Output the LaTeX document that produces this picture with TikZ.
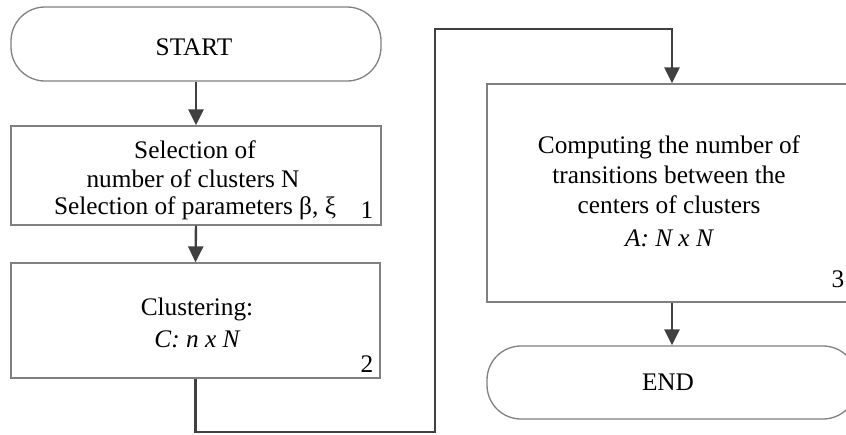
\documentclass[tikz,border=0pt]{standalone}
\usepackage{fontspec}
\setmainfont{Liberation Serif}
\usetikzlibrary{arrows.meta}
\begin{document}
\begin{tikzpicture}[x=1pt,y=-1pt,
  box/.style={draw=black!50, line width=1.3pt, fill=white, rectangle, inner sep=0pt},
  term/.style={box, rounded corners=34pt},
  txt/.style={font=\fontsize{25.3}{30}\selectfont, anchor=base, inner sep=0pt, text=black},
  conn/.style={draw=black!75, line width=2.4pt},
  arr/.style={conn, -{Triangle[length=16pt,width=15pt]}}]
\useasboundingbox (0,0) rectangle (846,434);
\clip (0,0) rectangle (846,434);
% left column
\node[term, minimum width=370pt, minimum height=74pt] (start) at (196,44) {};
\node[box, minimum width=370pt, minimum height=99pt] (b1) at (196,175.5) {};
\node[box, minimum width=369pt, minimum height=115pt] (b2) at (195.5,320.5) {};
% right column
\node[box, minimum width=370pt, minimum height=218pt] (b3) at (672,193) {};
\node[term, minimum width=370pt, minimum height=73pt] (end) at (672,382.5) {};
% texts
\node[txt] (tstart) at (194,55) {START};
\node[txt] (t1a) at (195,158) {Selection of};
\node[txt] (t1b) at (193,187) {number of clusters N};
\node[txt] (t1c) at (195,214) {Selection of parameters β, ξ};
\node[txt] (n1) at (367,218) {1};
\node[txt] (t2a) at (197,315) {Clustering:};
\node[txt] (t2b) at (197,347) {\itshape C: n x N};
\node[txt] (n2) at (367,372) {2};
\node[txt] (t3a) at (669,153) {Computing the number of};
\node[txt] (t3b) at (669,183) {transitions between the};
\node[txt] (t3c) at (669,213) {centers of clusters};
\node[txt] (t3d) at (669,246) {\itshape A: N x N};
\node[txt] (n3) at (838,287) {3};
\node[txt] (tend) at (668,390) {END};
% connectors
\coordinate (k1) at (435,432);
\coordinate (k2) at (435,29);
\draw[arr] (start.south) -- (b1.north);
\draw[arr] (b1.south) -- (b2.north);
\draw[arr] (b2.south) |- (k1) -- (k2) -| (b3.north);
\draw[arr] (b3.south) -- (end.north);
\end{tikzpicture}
\end{document}
